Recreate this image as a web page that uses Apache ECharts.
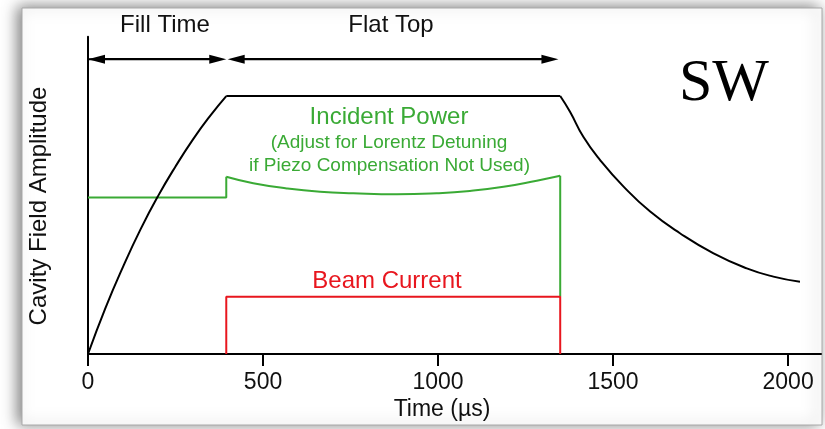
<!DOCTYPE html>
<html>
<head>
<meta charset="utf-8">
<script src="https://cdn.jsdelivr.net/npm/echarts@6/dist/echarts.min.js"></script>
<style>
  html, body { margin: 0; padding: 0; background: #ffffff; }
  #chart { width: 825px; height: 429px; }
</style>
</head>
<body>
<div id="chart"></div>
<script>
// ---- Data (time in µs, amplitude normalised to flat top = 1) ----
const xTicks = [0, 500, 1000, 1500, 2000];

const fieldRise = [[0, 0], [50, 0.179], [100, 0.338], [150, 0.483], [200, 0.612], [250, 0.727], [300, 0.832], [350, 0.925], [395, 1.0]];
const fieldFlat = [[395, 1.0], [1349, 1.0]];
const fieldDecay = [[1349, 1.0], [1377, 0.939], [1415, 0.842], [1463, 0.752], [1530, 0.649], [1606, 0.552], [1691, 0.468], [1787, 0.390], [1882, 0.332], [1958, 0.300], [2034, 0.280]];

const powerStep = [[0, 0.607], [395, 0.607], [395, 0.687]];
const powerCurve = [[395, 0.687], [472, 0.662], [568, 0.642], [663, 0.629], [758, 0.623], [882, 0.619], [996, 0.623], [1091, 0.632], [1187, 0.648], [1282, 0.672], [1349, 0.691]];
const powerDrop = [[1349, 0.691], [1349, 0.222]];

const beamCurrent = [[395, 0], [395, 0.222], [1349, 0.222], [1349, 0]];

// arrow spans (tip to tip) and level
const fillTimeSpan = [0, 395];
const flatTopSpan = [399, 1344];
const arrowLevel = 1.143;

const labels = {
  fill: 'Fill Time',
  flat: 'Flat Top',
  sw: 'SW',
  power: 'Incident Power',
  power2: '(Adjust for Lorentz Detuning',
  power3: 'if Piezo Compensation Not Used)',
  beam: 'Beam Current',
  xTitle: 'Time (\u00b5s)',
  yTitle: 'Cavity Field Amplitude'
};

// ---- Chart ----
const GREEN = '#3aaa35';
const RED = '#e8161e';
const FONT = '"Liberation Sans", Arial, Helvetica, sans-serif';
const ARROW_LEN = 17;

const chart = echarts.init(document.getElementById('chart'), null, { renderer: 'canvas' });

function lineSeries(data, color, smooth, z) {
  return {
    type: 'line', data: data, smooth: smooth || false, showSymbol: false, symbol: 'none',
    lineStyle: { color: color, width: 2 }, silent: true, z: z || 2, animation: false
  };
}

function txt(text, x, y, size, color, extra) {
  return Object.assign({
    type: 'text', x: x, y: y, silent: true, z: 10,
    style: { text: text, fontSize: size, fontFamily: FONT, fill: color, align: 'center', verticalAlign: 'middle' }
  }, extra || {});
}

const xMax = 2094;
const gridLeft = 88, gridRight = 4;
const pxPerUnit = (825 - gridLeft - gridRight) / xMax;
const half = (ARROW_LEN / 2) / pxPerUnit; // symbol is centred on its point: pull it in so the tip lands on the end

const arrowSeries = lineSeries([], '#000', false, 3);
arrowSeries.markLine = {
  silent: true, animation: false,
  symbol: ['triangle', 'triangle'], symbolSize: [9, ARROW_LEN],
  label: { show: false },
  lineStyle: { color: '#000', width: 2, type: 'solid' },
  data: [
    [{ coord: [fillTimeSpan[0] + half, arrowLevel] }, { coord: [fillTimeSpan[1] - half, arrowLevel] }],
    [{ coord: [flatTopSpan[0] + half, arrowLevel] }, { coord: [flatTopSpan[1] - half, arrowLevel] }]
  ]
};
// connecting lines reaching all the way to the tips
const fillLine = lineSeries([[fillTimeSpan[0], arrowLevel], [fillTimeSpan[1] - 2 * half, arrowLevel]], '#000', false, 3);
const flatLine = lineSeries([[flatTopSpan[0] + 2 * half, arrowLevel], [flatTopSpan[1] - 2 * half, arrowLevel]], '#000', false, 3);

chart.setOption({
  animation: false,
  backgroundColor: '#ffffff',
  grid: { left: gridLeft, right: gridRight, top: 36.7, bottom: 75, containLabel: false },
  xAxis: {
    type: 'value', min: 0, max: xMax, interval: 500,
    axisLine: { show: true, onZero: false, lineStyle: { color: '#000', width: 2 } },
    axisTick: { show: true, length: 12, lineStyle: { color: '#000', width: 2 }, customValues: xTicks },
    axisLabel: { show: true, color: '#111', fontSize: 23, fontFamily: FONT, margin: 17, customValues: xTicks, formatter: function (v) { return String(v); } },
    splitLine: { show: false }
  },
  yAxis: {
    type: 'value', min: 0, max: 1.23,
    axisLine: { show: true, onZero: false, lineStyle: { color: '#000', width: 2 } },
    axisTick: { show: false }, axisLabel: { show: false }, splitLine: { show: false }
  },
  graphic: [
    {
      type: 'rect', shape: { x: 22, y: 8, width: 800, height: 417 }, z: -10, silent: true,
      style: { fill: '#ffffff', stroke: '#a8a8a8', lineWidth: 1, shadowBlur: 14, shadowColor: 'rgba(0,0,0,0.5)', shadowOffsetX: -4, shadowOffsetY: -1 }
    },
    txt(labels.fill, 165, 25, 24, '#111'),
    txt(labels.flat, 391, 25, 24, '#111'),
    {
      type: 'text', x: 724, y: 84, silent: true, z: 10,
      style: { text: labels.sw, fontSize: 60, fontFamily: '"Liberation Serif", "Times New Roman", serif', fill: '#000', align: 'center', verticalAlign: 'middle' }
    },
    txt(labels.power, 389, 117, 24, GREEN),
    txt(labels.power2, 389, 143, 19, GREEN),
    txt(labels.power3, 389.5, 166, 19, GREEN),
    txt(labels.beam, 387, 281, 24, RED),
    txt(labels.xTitle, 442, 410, 23, '#111'),
    txt(labels.yTitle, 39, 206, 24, '#111', { rotation: Math.PI / 2 })
  ],
  series: [
    lineSeries(powerStep, GREEN, false, 2),
    lineSeries(powerCurve, GREEN, true, 2),
    lineSeries(powerDrop, GREEN, false, 2),
    lineSeries(beamCurrent, RED, false, 3),
    lineSeries(fieldRise, '#000', true, 4),
    lineSeries(fieldFlat, '#000', false, 4),
    lineSeries(fieldDecay, '#000', true, 4),
    fillLine,
    flatLine,
    arrowSeries
  ]
});
</script>
</body>
</html>
